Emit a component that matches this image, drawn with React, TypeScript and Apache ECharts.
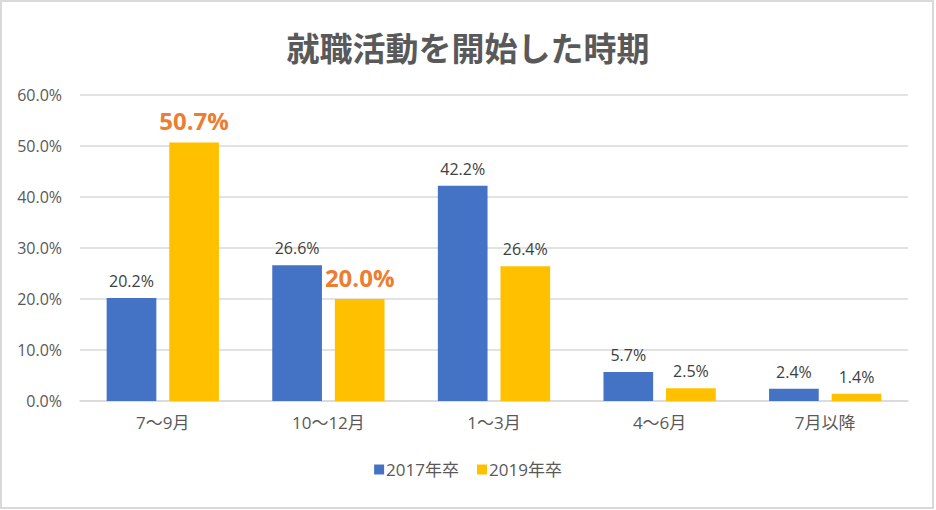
import React, { useEffect, useRef } from "react";
import * as echarts from "echarts";

const categories = ["7〜9月", "10〜12月", "1〜3月", "4〜6月", "7月以降"];
const series2017 = [20.2, 26.6, 42.2, 5.7, 2.4];
const series2019 = [50.7, 20.0, 26.4, 2.5, 1.4];
const highlight2019 = [true, true, false, false, false];
const yTicks = [0, 10, 20, 30, 40, 50, 60];

const FONT = '"Open Sans", "Noto Sans CJK JP", sans-serif';
const CJK = '"Noto Sans CJK JP", sans-serif';

export default function App() {
  const ref = useRef<HTMLDivElement>(null);
  useEffect(() => {
    if (!ref.current) return;
    const chart = echarts.init(ref.current, null, { renderer: "svg" });
    const normalLabel = {
      show: true,
      position: "top",
      distance: 9,
      color: "#404040",
      fontSize: 16,
      fontFamily: FONT,
      formatter: (p: any) => p.value.toFixed(1) + "%",
    };
    const hlLabel = {
      show: true,
      position: "top",
      distance: 10,
      color: "#ED7D31",
      fontSize: 24,
      fontWeight: "bold",
      fontFamily: FONT,
      formatter: (p: any) => p.value.toFixed(1) + "%",
    };
    chart.setOption({
      animation: false,
      backgroundColor: "#ffffff",
      textStyle: { fontFamily: FONT },
      title: {
        text: "就職活動を開始した時期",
        left: "center",
        top: 25,
        textStyle: { fontSize: 33, fontWeight: "bold", color: "#595959", fontFamily: CJK },
      },
      graphic: [
        {
          type: "rect",
          shape: { x: 1, y: 1, width: 932, height: 507 },
          style: { fill: "none", stroke: "#d9d9d9", lineWidth: 2 },
          silent: true,
        },
      ],
      legend: {
        bottom: 27,
        left: "center",
        icon: "rect",
        itemWidth: 10,
        itemHeight: 10,
        itemGap: 18,
        textStyle: { fontSize: 17, color: "#595959", fontFamily: FONT, padding: [0, 0, 0, -3] },
        data: ["2017年卒", "2019年卒"],
      },
      grid: { left: 80, right: 28, top: 95, bottom: 109 },
      xAxis: {
        type: "category",
        data: categories,
        axisLine: { show: true, lineStyle: { color: "#d9d9d9", width: 1.5 } },
        axisTick: { show: false },
        axisLabel: { fontSize: 17, color: "#595959", margin: 13, fontFamily: FONT },
      },
      yAxis: {
        type: "value",
        min: yTicks[0],
        max: yTicks[yTicks.length - 1],
        interval: 10,
        axisLine: { show: false },
        axisTick: { show: false },
        splitLine: { lineStyle: { color: "#d9d9d9", width: 1.5 } },
        axisLabel: {
          fontSize: 16,
          color: "#595959",
          margin: 18,
          fontFamily: FONT,
          formatter: (v: number) => v.toFixed(1) + "%",
        },
      },
      series: [
        {
          name: "2017年卒",
          type: "bar",
          data: series2017,
          barWidth: "30%",
          barGap: "26%",
          itemStyle: { color: "#4472C4" },
          label: normalLabel,
        },
        {
          name: "2019年卒",
          type: "bar",
          data: series2019.map((v, i) => ({
            value: v,
            label: highlight2019[i] ? hlLabel : normalLabel,
          })),
          barWidth: "30%",
          itemStyle: { color: "#FFC000" },
          label: normalLabel,
        },
      ],
    });
    return () => chart.dispose();
  }, []);
  return (
    <div
      ref={ref}
      style={{ position: "fixed", left: 0, top: 0, width: 936, height: 510 }}
    />
  );
}
